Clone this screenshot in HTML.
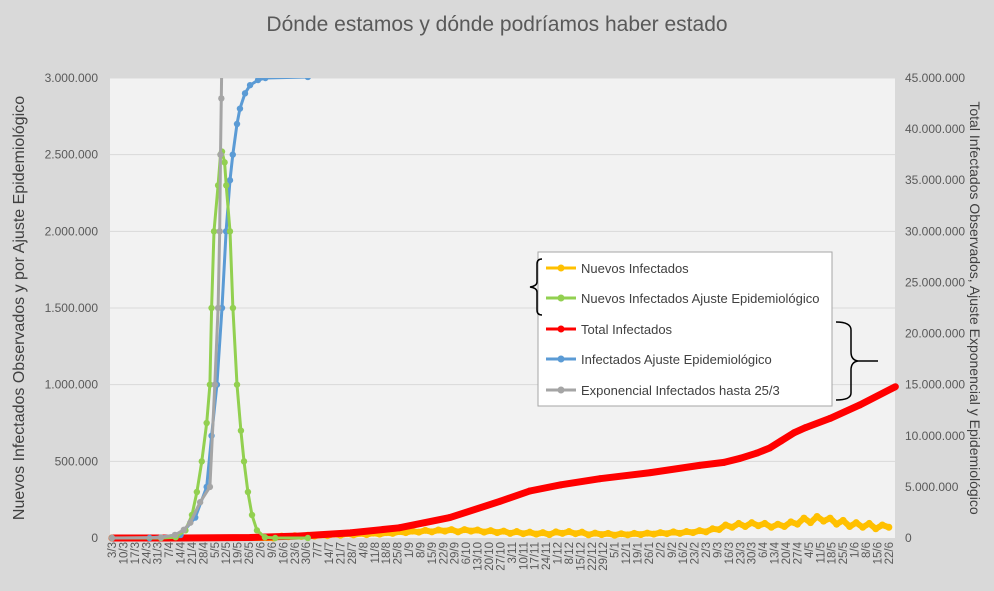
<!DOCTYPE html>
<html><head><meta charset="utf-8"><style>
body{margin:0;background:#d9d9d9;}
svg{display:block;font-family:"Liberation Sans",sans-serif;}
</style></head><body>
<svg id="chart" width="994" height="591" viewBox="0 0 994 591" xmlns="http://www.w3.org/2000/svg">
<rect x="0" y="0" width="994" height="591" fill="#d9d9d9"/>
<text x="497" y="31" text-anchor="middle" font-size="21" fill="#595959">Dónde estamos y dónde podríamos haber estado</text>
<rect x="110" y="78" width="785" height="460" fill="#f2f2f2"/>
<defs><clipPath id="clip"><rect x="100" y="78" width="800" height="465"/></clipPath></defs>
<g id="grid"></g><g id="yl"></g><g id="yr"></g><g id="xl"></g>
<g id="series" clip-path="url(#clip)"></g>
<text transform="translate(24,308) rotate(-90)" text-anchor="middle" font-size="16" fill="#404040">Nuevos Infectados Observados y por Ajuste Epidemiológico</text>
<text transform="translate(970,308) rotate(90)" text-anchor="middle" font-size="14" fill="#404040">Total Infectados Observados, Ajuste Exponencial y Epidemiológico</text>
<g id="legend">
<rect x="538" y="252" width="294" height="154" fill="#ffffff" stroke="#a6a6a6"/>
</g>
<path d="M542,259 Q537,259 537,264 L537,282 Q537,286 530,287 Q537,288 537,292 L537,310 Q537,315 542,315" fill="none" stroke="#000" stroke-width="1.5"/>
<path d="M836,322 Q851,322 851,330 L851,352 Q851,360 858,361 Q851,362 851,370 L851,393 Q851,400 836,400 M858,361 L878,361" fill="none" stroke="#000" stroke-width="1.5"/>
</svg>
<script>
const leftTicks=["0","500.000","1.000.000","1.500.000","2.000.000","2.500.000","3.000.000"];
const rightTicks=["0","5.000.000","10.000.000","15.000.000","20.000.000","25.000.000","30.000.000","35.000.000","40.000.000","45.000.000"];
const xLabels=["3/3","10/3","17/3","24/3","31/3","7/4","14/4","21/4","28/4","5/5","12/5","19/5","26/5","2/6","9/6","16/6","23/6","30/6","7/7","14/7","21/7","28/7","4/8","11/8","18/8","25/8","1/9","8/9","15/9","22/9","29/9","6/10","13/10","20/10","27/10","3/11","10/11","17/11","24/11","1/12","8/12","15/12","22/12","29/12","5/1","12/1","19/1","26/1","2/2","9/2","16/2","23/2","2/3","9/3","16/3","23/3","30/3","6/4","13/4","20/4","27/4","4/5","11/5","18/5","25/5","1/6","8/6","15/6","22/6"];
const greenDays=[0,30,39,45,49,52,55,58,60,61,62.5,65,66.5,67.4,69,70,72.3,74.1,76.6,79,80.9,83.3,85.8,88.8,93.7,100,120];
const greenVals=[0,0,5,50,150,300,500,750,1000,1500,2000,2300,2500,2520,2450,2300,2000,1500,1000,700,500,300,150,50,5,0,0];
const blueDays=[0,23,42,51,58,61,64.3,67.4,69.9,72.3,74,76.6,78.4,81.5,84.6,89.5,94,120];
const blueVals=[0,0,0.3,2,5,10,15,22.5,30,35,37.5,40.5,42,43.5,44.3,44.8,45,45.1];
const grayDays=[0,30,38.6,44,48,54,60,63,65,66,66.5,67,67.6];
const grayVals=[0,0.05,0.3,0.8,1.5,3.5,5,15,22.5,30,37.5,43,50];
const redDays=[0,42,85,115,146,176,207,238,256,275,299,330,360,375,385,395,403,410,418,425,440,458,480];
const redVals=[0,0,0.05,0.2,0.5,1.0,2.0,3.6,4.6,5.2,5.8,6.4,7.1,7.4,7.8,8.3,8.8,9.5,10.3,10.8,11.7,13.0,14.8];
const yellowVals=[5,12,8,15,10,18,12,20,15,25,18,28,20,30,22,32,25,35,30,42,35,45,38,50,40,52,45,55,40,55,45,52,38,48,35,45,30,42,28,38,25,35,22,40,30,42,28,38,20,32,22,30,18,28,20,30,22,32,25,35,28,40,30,42,35,48,40,60,55,85,70,95,75,100,80,95,70,90,75,105,90,130,100,140,110,130,90,115,75,100,70,95,60,85,70];
const yellowStart=100, yellowStep=4;

const NS="http://www.w3.org/2000/svg";
const X0=112,PX=1.632,YB=538,YT=78;
const xs=d=>X0+d*PX;
const yL=v=>YB-(v/3000)*(YB-YT);
const yR=v=>YB-(v/45)*(YB-YT);
function mk(tag,attrs,parent){const e=document.createElementNS(NS,tag);for(const k in attrs)e.setAttribute(k,attrs[k]);parent.appendChild(e);return e;}
const grid=document.getElementById('grid'),yl=document.getElementById('yl'),yr=document.getElementById('yr'),xl=document.getElementById('xl'),ser=document.getElementById('series');
leftTicks.forEach((t,i)=>{const y=yL(i*500);
 if(i>0){const g=mk('line',{x1:110,x2:895,y1:y,y2:y,stroke:'#d9d9d9','stroke-width':1},grid);
 
 }
 const tx=mk('text',{x:98,y:y+4,'text-anchor':'end','font-size':12,fill:'#595959'},yl);tx.textContent=t;
 
 });
rightTicks.forEach((t,i)=>{const y=yR(i*5);
 const tx=mk('text',{x:905,y:y+4,'font-size':12,fill:'#595959'},yr);tx.textContent=t;
 
 });
xLabels.forEach((t,i)=>{const x=xs(i*7);
 const tx=mk('text',{transform:`translate(${x+4},542) rotate(-90)`,'text-anchor':'end','font-size':11.5,fill:'#595959'},xl);tx.textContent=t;
 
 });
function series(days,vals,yf,color,name,w,r){
 const g=mk('g',{},ser);
 
 
 const pts=days.map((d,i)=>xs(d).toFixed(1)+','+yf(vals[i]).toFixed(1)).join(' ');
 mk('polyline',{points:pts,fill:'none',stroke:color,'stroke-width':w,'stroke-linejoin':'round'},g);
 days.forEach((d,i)=>{const c=mk('circle',{cx:xs(d),cy:yf(vals[i]),r:r,fill:color},g);
 
 });
}
const yDays=yellowVals.map((v,i)=>yellowStart+i*yellowStep);
series([0,99].concat(yDays),[0,0].concat(yellowVals),yL,'#ffc000','nuevos-infectados-series',6,3.5);
series(redDays,redVals,yR,'#ff0000','total-infectados-series',7,3.5);
series(blueDays,blueVals,yR,'#5b9bd5','infectados-ajuste-series',3,3.2);
series(greenDays,greenVals,yL,'#92d050','nuevos-ajuste-series',3,3.2);
series(grayDays,grayVals,yR,'#a5a5a5','exponencial-series',3,3.2);
const leg=document.getElementById('legend');
const items=[["Nuevos Infectados","#ffc000",268],["Nuevos Infectados Ajuste Epidemiológico","#92d050",298],["Total Infectados","#ff0000",329],["Infectados Ajuste Epidemiológico","#5b9bd5",359],["Exponencial Infectados hasta 25/3","#a5a5a5",390]];
items.forEach(([t,c,y])=>{const g=mk('g',{},leg);
 
 
 mk('line',{x1:546,x2:576,y1:y,y2:y,stroke:c,'stroke-width':3},g);
 mk('circle',{cx:561,cy:y,r:3.5,fill:c},g);
 const tx=mk('text',{x:581,y:y+5,'font-size':13,fill:'#404040'},g);tx.textContent=t;});
</script>
</body></html>
